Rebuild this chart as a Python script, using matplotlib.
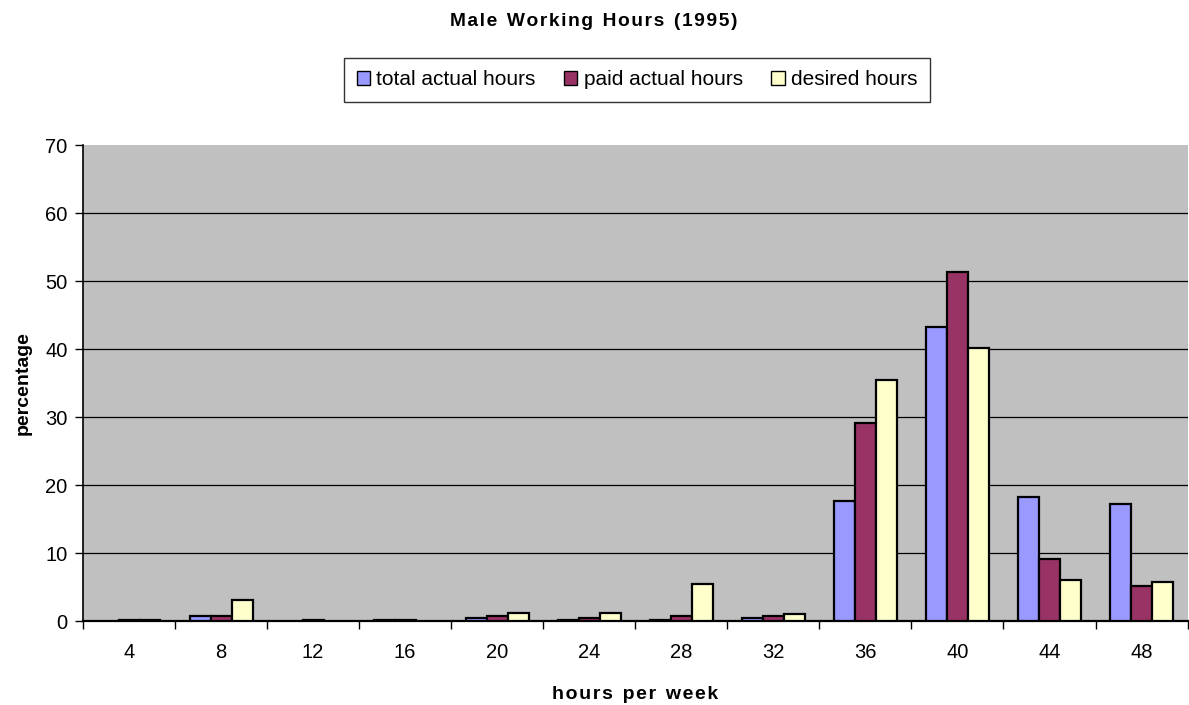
import numpy as np
import matplotlib
matplotlib.use("Agg")
import matplotlib.pyplot as plt
from matplotlib.patches import Patch

plt.rcParams['font.family'] = ['Liberation Sans', 'DejaVu Sans']

# data
hours = ["4", "8", "12", "16", "20", "24", "28", "32", "36", "40", "44", "48"]
total_actual = [0, 0.8, 0, 0.2, 0.5, 0.2, 0.2, 0.5, 17.7, 43.3, 18.3, 17.2]
paid_actual = [0.2, 0.8, 0.2, 0.2, 0.8, 0.5, 0.8, 0.8, 29.2, 51.4, 9.2, 5.2]
desired = [0.2, 3.1, 0, 0, 1.2, 1.2, 5.5, 1.1, 35.5, 40.2, 6.0, 5.7]

series = [
    ("total actual hours", total_actual, "#9999FF"),
    ("paid actual hours", paid_actual, "#993366"),
    ("desired hours", desired, "#FFFFCC"),
]

fig = plt.figure(figsize=(11.89, 7.05), dpi=100)
ax = fig.add_axes([0.0698, 0.119, 0.929, 0.675])
ax.set_facecolor("#C0C0C0")

x = np.arange(len(hours))
w = 0.228
handles = []
for i, (name, vals, col) in enumerate(series):
    bars = ax.bar(x + (i - 1) * w, vals, width=w, color=col, edgecolor="black",
                  linewidth=1.6, zorder=3)
    for b in bars:
        if b.get_height() == 0:
            b.set_visible(False)
    handles.append(Patch(facecolor=col, edgecolor="black", linewidth=1.0, label=name))

ax.set_xlim(-0.5, len(hours) - 0.5)
ax.set_ylim(0, 70)
ax.set_yticks(range(0, 71, 10))
ax.set_xticks(x)
ax.set_xticklabels(hours)
ax.set_xticks(np.arange(-0.5, len(hours)), minor=True)
ax.tick_params(axis="x", which="major", length=0, pad=16, labelsize=14.5)
ax.tick_params(axis="x", which="minor", length=6, width=1, direction="out")
ax.tick_params(axis="y", length=6, width=1, direction="out", labelsize=14.5, pad=5)

ax.yaxis.grid(True, color="black", linewidth=0.9, zorder=1)
ax.set_axisbelow(True)
ax.get_ygridlines()[-1].set_visible(False)
ax.get_ygridlines()[0].set_visible(False)

for s in ["top", "right"]:
    ax.spines[s].set_visible(False)
ax.spines["left"].set_linewidth(1.2)
ax.spines["bottom"].set_linewidth(1.6)

ax.set_ylabel("percentage", fontsize=14, fontweight="bold", labelpad=10)
ax.set_xlabel("h o u r s   p e r   w e e k".replace("   ", "\u2002").replace(" ", "\u200a"),
              fontsize=14, fontweight="bold", labelpad=17)

fig.text(0.499, 0.97, "M a l e  W o r k i n g  H o u r s  ( 1 9 9 5 )".replace("  ", "\u2002").replace(" ", "\u200a"),
         ha="center", va="center", fontsize=13.8, fontweight="bold")

leg = fig.legend(handles=handles, loc="center", bbox_to_anchor=(0.5357, 0.887), ncol=3,
                 fontsize=15, frameon=True, fancybox=False, edgecolor="black",
                 handlelength=0.65, handleheight=0.65, handletextpad=0.3,
                 columnspacing=1.35, borderpad=0.6, borderaxespad=0)
leg.get_frame().set_linewidth(1.0)

fig.savefig("out.png", dpi=100)
